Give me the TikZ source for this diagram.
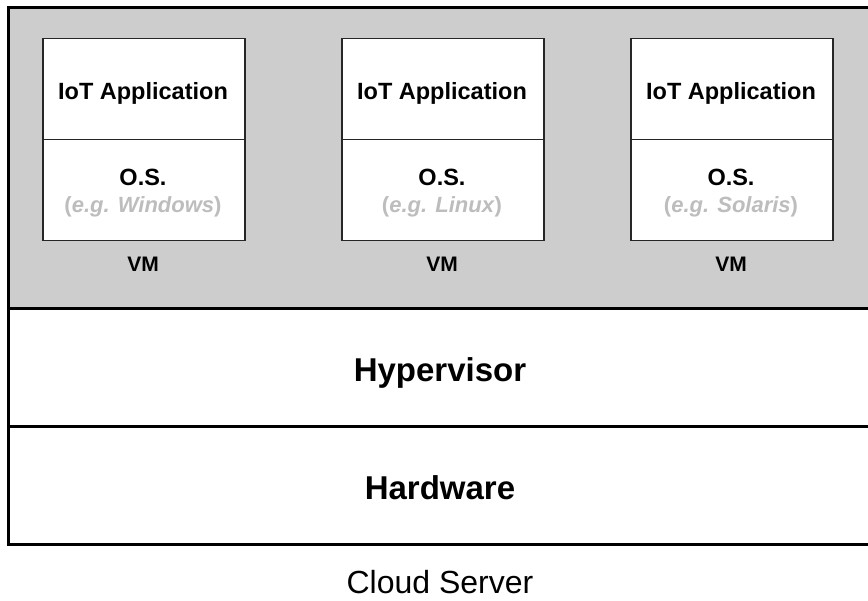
\documentclass[tikz,border=0pt]{standalone}
\usepackage{fontspec}
\setmainfont{Liberation Sans}
\definecolor{vmgray}{HTML}{CDCDCD}
\definecolor{egray}{HTML}{BDBDBD}
\begin{document}
\begin{tikzpicture}[x=1pt,y=-1pt,
  layer/.style={draw=black, line width=3pt, fill=white, minimum width=880pt, minimum height=118pt, anchor=north west, inner sep=0pt},
  appbox/.style={draw=black!85, line width=1.5pt, fill=white, minimum width=202pt, minimum height=101pt, anchor=north west, inner sep=0pt},
  boxtext/.style={font=\bfseries\fontsize{23.5}{26}\selectfont, anchor=base},
  egtext/.style={font=\bfseries\fontsize{22}{26}\selectfont, text=egray, anchor=base},
  vmlabel/.style={font=\bfseries\fontsize{21}{24}\selectfont, anchor=base},
  bigtext/.style={font=\bfseries\fontsize{33}{36}\selectfont, anchor=base}
]
\useasboundingbox (0,0) rectangle (868,601);
\node[draw=black, line width=3pt, fill=vmgray, minimum width=880pt, minimum height=301pt, anchor=north west, inner sep=0pt] (vmlayer) at (7,6) {};
\node[layer] (hyp) at (7,307) {};
\node[layer] (hw) at (7,425) {};
\node[bigtext] (hyptext) at (440,382) {Hypervisor};
\node[bigtext] (hwtext) at (440,500) {Hardware};
\node[font=\fontsize{32}{36}\selectfont, anchor=base] (cloud) at (440,593) {Cloud Server};
% VM 1
\node[appbox] (app1) at (42,38) {};
\node[boxtext] (app1t) at (143,100) {IoT Application};
\node[appbox] (os1) at (42,139) {};
\node[boxtext] (os1t) at (143,186) {O.S.};
\node[egtext] (os1e) at (143,213) {(\textit{e.g. Windows})};
\node[vmlabel] (vm1) at (143,272) {VM};
% VM 2
\node[appbox] (app2) at (341,38) {};
\node[boxtext] (app2t) at (442,100) {IoT Application};
\node[appbox] (os2) at (341,139) {};
\node[boxtext] (os2t) at (442,186) {O.S.};
\node[egtext] (os2e) at (442,213) {(\textit{e.g. Linux})};
\node[vmlabel] (vm2) at (442,272) {VM};
% VM 3
\node[appbox] (app3) at (630,38) {};
\node[boxtext] (app3t) at (731,100) {IoT Application};
\node[appbox] (os3) at (630,139) {};
\node[boxtext] (os3t) at (731,186) {O.S.};
\node[egtext] (os3e) at (731,213) {(\textit{e.g. Solaris})};
\node[vmlabel] (vm3) at (731,272) {VM};
\end{tikzpicture}
\end{document}
